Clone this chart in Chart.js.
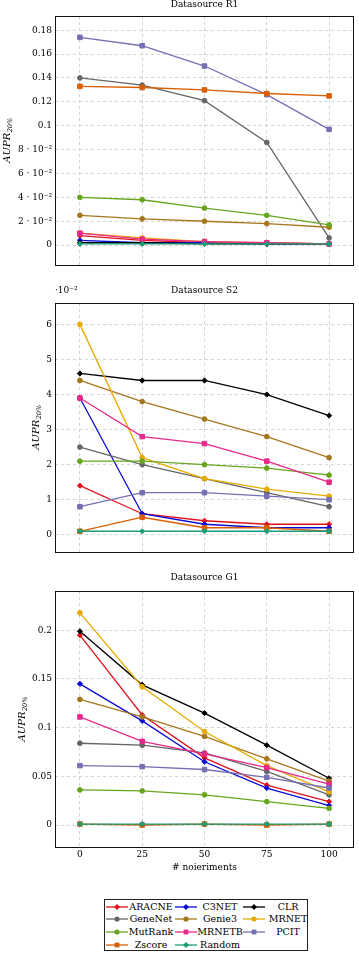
<!DOCTYPE html>
<html>
<head>
<meta charset="utf-8">
<script src="https://cdn.jsdelivr.net/npm/chart.js@4.4.1/dist/chart.umd.min.js"></script>
<style>
  html, body { margin: 0; padding: 0; background: #fff; }
  body { width: 359px; height: 953px; position: relative; overflow: hidden; font-family: 'DejaVu Serif', serif; }
  .wrap { position: absolute; left: 0; }
  canvas { display: block; }
  #legend { position: absolute; left: 104px; top: 899px; width: 204px; height: 52px; border: 1px solid #222; box-sizing: border-box; }
  .lg-item { position: absolute; height: 12px; }
  .lg-text { position: absolute; top: 0; font-size: 9.5px; line-height: 12px; text-align: center; color: #000; white-space: nowrap; }
</style>
</head>
<body>
<div class="wrap" style="top:0px"><canvas id="c1" width="359" height="273"></canvas></div>
<div class="wrap" style="top:280px"><canvas id="c2" width="359" height="280"></canvas></div>
<div class="wrap" style="top:565px"><canvas id="c3" width="359" height="310"></canvas></div>
<div id="legend"></div>
<script>
// ---------------- DATA ----------------
const noiseLevels = [0, 25, 50, 75, 100];
const methods = ['ARACNE', 'C3NET', 'CLR', 'GeneNet', 'Genie3', 'MRNET', 'MutRank', 'MRNETB', 'PCIT', 'Zscore', 'Random'];

// Datasource R1 (AUPR 20%)
const r1_ARACNE  = [0.008, 0.004, 0.002, 0.002, 0.001];
const r1_C3NET   = [0.004, 0.002, 0.002, 0.001, 0.001];
const r1_CLR     = [0.002, 0.002, 0.001, 0.001, 0.001];
const r1_GeneNet = [0.140, 0.134, 0.121, 0.086, 0.006];
const r1_Genie3  = [0.025, 0.022, 0.020, 0.018, 0.015];
const r1_MRNET   = [0.010, 0.006, 0.003, 0.002, 0.001];
const r1_MutRank = [0.040, 0.038, 0.031, 0.025, 0.017];
const r1_MRNETB  = [0.010, 0.005, 0.003, 0.002, 0.001];
const r1_PCIT    = [0.174, 0.167, 0.150, 0.126, 0.097];
const r1_Zscore  = [0.133, 0.132, 0.130, 0.127, 0.125];
const r1_Random  = [0.001, 0.001, 0.001, 0.001, 0.001];

// Datasource S2 (AUPR 20%, in units of 10^-2)
const s2_ARACNE  = [1.4, 0.6, 0.4, 0.3, 0.3];
const s2_C3NET   = [3.9, 0.6, 0.3, 0.2, 0.2];
const s2_CLR     = [4.6, 4.4, 4.4, 4.0, 3.4];
const s2_GeneNet = [2.5, 2.0, 1.6, 1.2, 0.8];
const s2_Genie3  = [4.4, 3.8, 3.3, 2.8, 2.2];
const s2_MRNET   = [6.0, 2.2, 1.6, 1.3, 1.1];
const s2_MutRank = [2.1, 2.1, 2.0, 1.9, 1.7];
const s2_MRNETB  = [3.9, 2.8, 2.6, 2.1, 1.5];
const s2_PCIT    = [0.8, 1.2, 1.2, 1.1, 1.0];
const s2_Zscore  = [0.1, 0.5, 0.2, 0.2, 0.1];
const s2_Random  = [0.1, 0.1, 0.1, 0.1, 0.1];

// Datasource G1 (AUPR 20%)
const g1_ARACNE  = [0.195, 0.113, 0.069, 0.041, 0.024];
const g1_C3NET   = [0.145, 0.107, 0.065, 0.038, 0.020];
const g1_CLR     = [0.199, 0.144, 0.115, 0.082, 0.048];
const g1_GeneNet = [0.084, 0.082, 0.074, 0.055, 0.031];
const g1_Genie3  = [0.129, 0.111, 0.091, 0.068, 0.045];
const g1_MRNET   = [0.218, 0.142, 0.096, 0.061, 0.034];
const g1_MutRank = [0.036, 0.035, 0.031, 0.024, 0.017];
const g1_MRNETB  = [0.111, 0.086, 0.073, 0.059, 0.042];
const g1_PCIT    = [0.061, 0.060, 0.057, 0.049, 0.038];
const g1_Zscore  = [0.001, 0.000, 0.001, 0.000, 0.001];
const g1_Random  = [0.001, 0.001, 0.001, 0.001, 0.001];

// Tick labels
const xTickValues = [0, 25, 50, 75, 100];
const xTickLabels = ['0', '25', '50', '75', '100'];
const r1TickValues = [0, 0.02, 0.04, 0.06, 0.08, 0.1, 0.12, 0.14, 0.16, 0.18];
const r1TickLabels = ['0', '2 · 10⁻²', '4 · 10⁻²', '6 · 10⁻²', '8 · 10⁻²', '0.1', '0.12', '0.14', '0.16', '0.18'];
const s2TickValues = [0, 1, 2, 3, 4, 5, 6];
const s2TickLabels = ['0', '1', '2', '3', '4', '5', '6'];
const g1TickValues = [0, 0.05, 0.1, 0.15, 0.2];
const g1TickLabels = ['0', '0.05', '0.1', '0.15', '0.2'];

// ---------------- STYLE ----------------
const methodColors = {
  ARACNE: '#e0121c', C3NET: '#0a0ad6', CLR: '#000000', GeneNet: '#666666', Genie3: '#a6761d',
  MRNET: '#e6ab02', MutRank: '#66a61e', MRNETB: '#e7298a', PCIT: '#7570b3', Zscore: '#d95f02', Random: '#1b9e77'
};
const methodMarkers = {
  ARACNE: 'rectRot', C3NET: 'rectRot', CLR: 'rectRot', GeneNet: 'circle', Genie3: 'circle',
  MRNET: 'circle', MutRank: 'circle', MRNETB: 'rect', PCIT: 'rect', Zscore: 'rect', Random: 'rectRot'
};
const markerRadius = { circle: 2.4, rect: 3.2, rectRot: 2.6 };

Chart.defaults.font.family = "'DejaVu Serif', serif";
Chart.defaults.font.size = 9;
Chart.defaults.color = '#000';

const serieSets = {
  r1: { ARACNE: r1_ARACNE, C3NET: r1_C3NET, CLR: r1_CLR, GeneNet: r1_GeneNet, Genie3: r1_Genie3, MRNET: r1_MRNET, MutRank: r1_MutRank, MRNETB: r1_MRNETB, PCIT: r1_PCIT, Zscore: r1_Zscore, Random: r1_Random },
  s2: { ARACNE: s2_ARACNE, C3NET: s2_C3NET, CLR: s2_CLR, GeneNet: s2_GeneNet, Genie3: s2_Genie3, MRNET: s2_MRNET, MutRank: s2_MutRank, MRNETB: s2_MRNETB, PCIT: s2_PCIT, Zscore: s2_Zscore, Random: s2_Random },
  g1: { ARACNE: g1_ARACNE, C3NET: g1_C3NET, CLR: g1_CLR, GeneNet: g1_GeneNet, Genie3: g1_Genie3, MRNET: g1_MRNET, MutRank: g1_MutRank, MRNETB: g1_MRNETB, PCIT: g1_PCIT, Zscore: g1_Zscore, Random: g1_Random }
};

function buildDatasets(set) {
  return methods.map((m, i) => {
    const st = methodMarkers[m];
    return {
      label: m,
      data: noiseLevels.map((x, k) => ({ x: x, y: set[m][k] })),
      borderColor: methodColors[m],
      backgroundColor: methodColors[m],
      pointBackgroundColor: methodColors[m],
      pointBorderColor: methodColors[m],
      borderWidth: 1.3,
      pointStyle: st,
      pointRadius: markerRadius[st],
      pointBorderWidth: 1,
      tension: 0,
      order: methods.length - i,
      clip: false
    };
  });
}

// Decoration plugin: frame, panel title, y-axis title with subscript, exponent note
const deco = {
  id: 'deco',
  afterDraw(chart, args, o) {
    const ctx = chart.ctx, a = chart.chartArea;
    ctx.save();
    // frame
    ctx.strokeStyle = '#111';
    ctx.lineWidth = 1;
    ctx.setLineDash([]);
    ctx.strokeRect(Math.round(a.left) + 0.5, Math.round(a.top) + 0.5, Math.round(a.right - a.left) - 1, Math.round(a.bottom - a.top));
    // title
    ctx.fillStyle = '#000';
    ctx.font = "9px 'DejaVu Serif', serif";
    ctx.textAlign = 'center';
    ctx.textBaseline = 'middle';
    ctx.fillText(o.title, (a.left + a.right) / 2, a.top - o.titleOffset);
    // exponent note
    if (o.exponent) {
      ctx.textAlign = 'left';
      ctx.fillText(o.exponent, a.left, a.top - o.titleOffset + 0.5);
    }
    // y title
    const main = 'AUPR', sub = '20%';
    const fMain = "italic 10px 'DejaVu Serif', serif", fSub = "italic 6.5px 'DejaVu Serif', serif";
    ctx.font = fMain; const wMain = ctx.measureText(main).width;
    ctx.font = fSub; const wSub = ctx.measureText(sub).width;
    const W = wMain + wSub + 0.5;
    ctx.translate(o.yTitleX, (a.top + a.bottom) / 2);
    ctx.rotate(-Math.PI / 2);
    ctx.textAlign = 'left';
    ctx.textBaseline = 'alphabetic';
    ctx.font = fMain;
    ctx.fillText(main, -W / 2, 3.5);
    ctx.font = fSub;
    ctx.fillText(sub, -W / 2 + wMain + 0.5, 6);
    ctx.restore();
  }
};

function makeChart(id, set, yMin, yMax, yVals, yLabels, deco_opts, bottom) {
  const xScale = {
    type: 'linear', min: -10, max: 110,
    afterBuildTicks: s => { s.ticks = xTickValues.map(v => ({ value: v })); },
    grid: { color: '#d4d4d4', lineWidth: 1, drawTicks: false, tickLength: 0 },
    border: { display: false, dash: [3, 3] },
    ticks: { display: !!bottom, padding: 2, maxRotation: 0, autoSkip: false,
             callback: (v, i) => xTickLabels[i], font: { size: 9 } },
    title: bottom ? { display: true, text: '# noieriments', font: { size: 9, lineHeight: 1.2 }, padding: { top: 0, bottom: 2 } } : { display: false },
    afterFit: s => { s.height = bottom ? bottom : 0; }
  };
  const yScale = {
    type: 'linear', min: yMin, max: yMax,
    afterBuildTicks: s => { s.ticks = yVals.map(v => ({ value: v })); },
    grid: { color: '#d4d4d4', lineWidth: 1, drawTicks: false, tickLength: 0 },
    border: { display: false, dash: [3, 3] },
    ticks: { padding: 3, autoSkip: false, callback: (v, i) => yLabels[i], font: { size: 9 } },
    afterFit: s => { s.width = 55; }
  };
  return new Chart(document.getElementById(id), {
    type: 'line',
    data: { datasets: buildDatasets(set) },
    options: {
      responsive: false, animation: false, devicePixelRatio: 1,
      layout: { padding: { top: deco_opts.padTop, bottom: bottom ? 0 : 1, left: 0, right: 1 } },
      scales: { x: xScale, y: yScale },
      plugins: { legend: { display: false }, tooltip: { enabled: false }, deco: deco_opts }
    },
    plugins: [deco]
  });
}

makeChart('c1', serieSets.r1, -0.0163, 0.1919, r1TickValues, r1TickLabels,
  { padTop: 16, title: 'Datasource R1', titleOffset: 11, yTitleX: 6 }, 0);
makeChart('c2', serieSets.s2, -0.48, 6.61, s2TickValues, s2TickLabels,
  { padTop: 23, title: 'Datasource S2', titleOffset: 12.5, yTitleX: 35, exponent: '·10⁻²' }, 0);
makeChart('c3', serieSets.g1, -0.0226, 0.2404, g1TickValues, g1TickLabels,
  { padTop: 26, title: 'Datasource G1', titleOffset: 13, yTitleX: 21 }, 28);

// ---------------- LEGEND ----------------
const legendColumns = [0, 69, 137];
const legendRowH = 12.67;
const lg = document.getElementById('legend');
function markerSvg(style, color) {
  if (style === 'circle') return `<circle cx="11" cy="6" r="2.6" fill="${color}"/>`;
  if (style === 'rect') return `<rect x="8.6" y="3.6" width="4.8" height="4.8" fill="${color}"/>`;
  return `<polygon points="11,3 14,6 11,9 8,6" fill="${color}"/>`;
}
methods.forEach((m, i) => {
  const col = i % 3, row = Math.floor(i / 3);
  const left = legendColumns[col] + 1, top = 0.5 + row * legendRowH;
  const c = methodColors[m];
  const item = document.createElement('div');
  item.className = 'lg-item';
  item.style.left = left + 'px';
  item.style.top = top + 'px';
  item.innerHTML = `<svg width="22" height="12" style="position:absolute;left:0;top:0"><line x1="0" y1="6" x2="22" y2="6" stroke="${c}" stroke-width="1.3"/>${markerSvg(methodMarkers[m], c)}</svg>` +
    `<span class="lg-text" style="left:22px;width:46px">${m}</span>`;
  lg.appendChild(item);
});
</script>
</body>
</html>
